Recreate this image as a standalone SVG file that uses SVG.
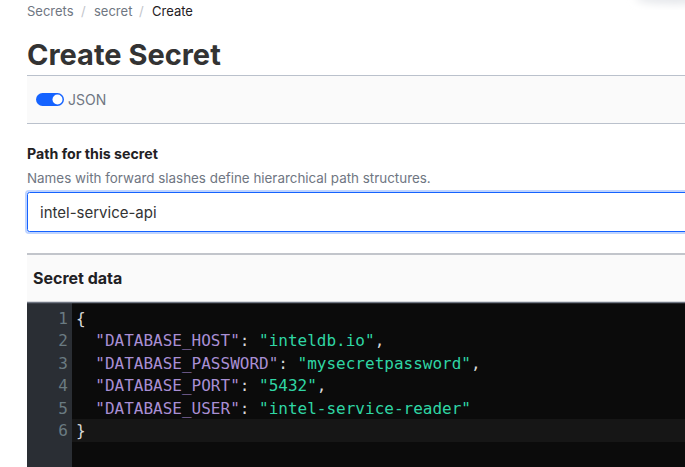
<svg xmlns="http://www.w3.org/2000/svg" width="685" height="467" viewBox="0 0 685 467">
<defs>
<style>
.ui{font-family:Inter,"Liberation Sans",Arial,sans-serif}
.crumb{font-size:13px;fill:#6f7682}
.mono{font-family:"DejaVu Sans Mono","Liberation Mono",monospace;font-size:16px}
.ln{fill:#6a7b82;text-anchor:end}
.p{fill:#d8d8d8}
.k{fill:#a98fd4}
.v{fill:#2fd6a4}
</style>
<filter id="blur" x="-50%" y="-50%" width="200%" height="200%"><feGaussianBlur stdDeviation="4"/></filter>
</defs>
<rect width="685" height="467" fill="#ffffff"/>
<ellipse cx="675" cy="-2" rx="40" ry="6" fill="#e4e6ea" filter="url(#blur)"/>
<g id="breadcrumb" class="ui crumb">
<text x="27" y="16">Secrets</text>
<text x="81" y="16" fill="#c2c5cb">/</text>
<text x="94" y="16">secret</text>
<text x="139" y="16" fill="#c2c5cb">/</text>
<text x="152" y="16" fill="#1f2124">Create</text>
</g>
<g id="title"><text class="ui" x="27" y="65" font-size="29" font-weight="700" fill="#333333">Create Secret</text></g>
<g id="json-toggle">
<rect x="27" y="75" width="670" height="49" fill="#fafafa"/>
<line x1="27" y1="75.5" x2="685" y2="75.5" stroke="#bac1cc"/>
<line x1="27" y1="123.5" x2="685" y2="123.5" stroke="#bac1cc"/>
<rect x="36" y="93" width="28" height="13" rx="6.5" fill="#1563ff"/>
<circle cx="57.5" cy="99.5" r="5" fill="#ffffff"/>
<text class="ui" x="68" y="105" font-size="14" fill="#6f7682">JSON</text>
</g>
<g id="path-field">
<text class="ui" x="27" y="159" font-size="14.2" font-weight="700" fill="#1f2124">Path for this secret</text>
<text class="ui" x="27" y="183" font-size="13.4" fill="#6f7682">Names with forward slashes define hierarchical path structures.</text>
<rect x="26" y="191" width="680" height="42" rx="3" fill="none" stroke="#bfd4ff" stroke-width="2"/>
<rect x="27.5" y="192.5" width="680" height="39" rx="2" fill="#ffffff" stroke="#1563ff"/>
<text class="ui" x="40" y="218" font-size="15" fill="#333333">intel-service-api</text>
</g>
<g id="secret-data">
<rect x="27" y="253" width="670" height="50" fill="#fafafa"/>
<line x1="27" y1="254" x2="685" y2="254" stroke="#c2c5cb" stroke-width="2"/>
<text class="ui" x="33" y="284" font-size="16" font-weight="700" fill="#1f2124">Secret data</text>
</g>
<g id="editor">
<rect x="27" y="302" width="670" height="165" fill="#0b0b0b"/>
<rect x="27" y="302" width="45" height="165" fill="#2a2e34"/>
<rect x="72" y="419" width="625" height="23" fill="#161616"/>
<line x1="27" y1="302.5" x2="685" y2="302.5" stroke="#6f7682" stroke-width="1.5"/>
<g class="mono">
<text class="ln" x="68" y="324">1</text>
<text class="ln" x="68" y="346">2</text>
<text class="ln" x="68" y="369">3</text>
<text class="ln" x="68" y="391">4</text>
<text class="ln" x="68" y="414">5</text>
<text class="ln" x="68" y="436">6</text>
<text x="76" y="324" class="p">{</text>
<text x="76" y="346" xml:space="preserve"><tspan class="p">  </tspan><tspan class="k">"DATABASE_HOST"</tspan><tspan class="p">: </tspan><tspan class="v">"inteldb.io"</tspan><tspan class="p">,</tspan></text>
<text x="76" y="369" xml:space="preserve"><tspan class="p">  </tspan><tspan class="k">"DATABASE_PASSWORD"</tspan><tspan class="p">: </tspan><tspan class="v">"mysecretpassword"</tspan><tspan class="p">,</tspan></text>
<text x="76" y="391" xml:space="preserve"><tspan class="p">  </tspan><tspan class="k">"DATABASE_PORT"</tspan><tspan class="p">: </tspan><tspan class="v">"5432"</tspan><tspan class="p">,</tspan></text>
<text x="76" y="414" xml:space="preserve"><tspan class="p">  </tspan><tspan class="k">"DATABASE_USER"</tspan><tspan class="p">: </tspan><tspan class="v">"intel-service-reader"</tspan></text>
<text x="76" y="436" class="p">}</text>
</g>
</g>
</svg>
